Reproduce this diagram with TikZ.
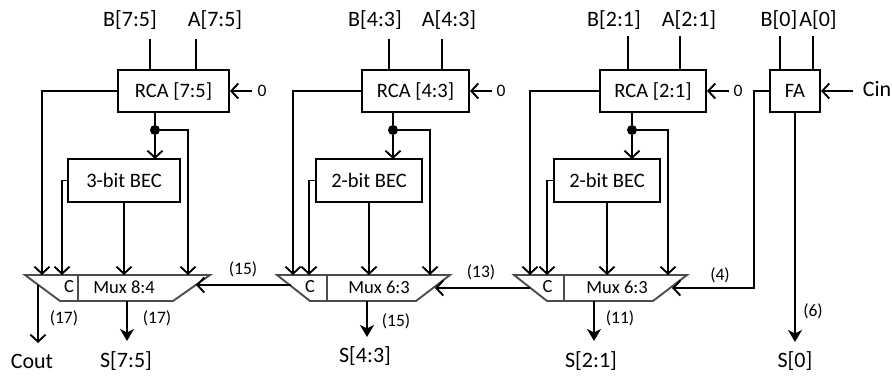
\documentclass[tikz,border=0pt]{standalone}
\usepackage{fontspec}
\setmainfont{Carlito}
\usetikzlibrary{arrows.meta}
\tikzset{
  x=1pt,y=-1pt,
  box/.style={draw=black,line width=1.9pt,inner sep=0pt,fill=none},
  muxline/.style={draw=black!70,line width=1.9pt,line join=miter},
  wire/.style={line width=1.9pt,draw=black,line cap=butt},
  barb/.style={wire,-{Straight Barb[length=7pt,width=15pt,line width=1.9pt]}},
  solid tip/.style={wire,-{Stealth[length=12pt,width=14pt,inset=3.5pt]}},
  junction/.style={circle,fill=black,inner sep=0pt,minimum size=10pt},
  sig/.style={font=\fontsize{22}{24}\selectfont,inner sep=0pt},
  lbl/.style={font=\fontsize{20.5}{24}\selectfont,inner sep=0pt},
  muxlbl/.style={font=\fontsize{18.5}{22}\selectfont,inner sep=0pt},
  cnt/.style={font=\fontsize{17.5}{20}\selectfont,inner sep=0pt},
}
\begin{document}
\begin{tikzpicture}
\useasboundingbox (0,0) rectangle (892,378);
% ---------- block 1
\node[box,lbl,minimum width=111pt,minimum height=42pt] (rca1) at (173.5,91) {RCA [7:5]};
\node[box,lbl,minimum width=112pt,minimum height=43pt] (bec1) at (124,180.5) {3-bit BEC};
\draw[muxline] (25,275) -- (210,275) -- (173,301) -- (60,301) -- cycle;
\draw[wire,draw=black!70] (78,275) coordinate (d1a) -- (78,301) coordinate (d1b);
\node[muxlbl] (c1) at (69,287) {C};
\node[muxlbl] (ml1) at (124,287) {Mux 8:4};
\node[sig] (b1) at (130,20) {B[7:5]};
\node[sig] (a1) at (215,20) {A[7:5]};
\node[cnt] (z1) at (262,91) {0};
\node[sig] (cout) at (32,361) {Cout};
\node[sig] (s1) at (126,361) {S[7:5]};
\node[cnt] (n1) at (64,318) {(17)};
\node[cnt] (n2) at (157,318) {(17)};
\node[cnt] (n3) at (243,269) {(15)};
\node[junction] (j1) at (155,130) {};
\coordinate (b1e) at (150,39); \coordinate (b1t) at (150,70);
\coordinate (a1e) at (196,39); \coordinate (a1t) at (196,70);
\draw[wire] (b1e) -- (b1t);
\draw[wire] (a1e) -- (a1t);
\draw[barb] (252,91) coordinate (z1w) -- (rca1.east);
\coordinate (m1a) at (42,275); \coordinate (m1b) at (62,275); \coordinate (m1c) at (124,275); \coordinate (m1d) at (188,275);
\draw[barb] (rca1.west) -| (m1a);
\draw[barb] (bec1.west) -| (m1b);
\draw[barb] (bec1.south) -- (m1c);
\draw[wire] (155,112) coordinate (r1s) -- (j1);
\draw[barb] (j1) -- (155,159) coordinate (b1n);
\draw[barb] (j1) -| (m1d);
\draw[barb] (38,285) coordinate (m1o) -- (38,343) coordinate (coute);
\draw[solid tip] (127,301) coordinate (m1s) -- (127,341) coordinate (s1e);
% ---------- block 2
\node[box,lbl,minimum width=107pt,minimum height=42pt] (rca2) at (415.5,91) {RCA [4:3]};
\node[box,lbl,minimum width=106pt,minimum height=43pt] (bec2) at (369,180.5) {2-bit BEC};
\draw[muxline] (277,275) -- (450,275) -- (416,301) -- (310,301) -- cycle;
\draw[wire,draw=black!70] (327,275) -- (327,301);
\node[muxlbl] (c2) at (310,287) {C};
\node[muxlbl] (ml2) at (379,287) {Mux 6:3};
\node[sig] (b2) at (375,20) {B[4:3]};
\node[sig] (a2) at (449,20) {A[4:3]};
\node[cnt] (z2) at (501,91) {0};
\node[sig] (s2) at (365,356) {S[4:3]};
\node[cnt] (n4) at (396,321) {(15)};
\node[cnt] (n5) at (481,272) {(13)};
\node[junction] (j2) at (393,130) {};
\draw[wire] (389,39) coordinate (b2e) -- (389,70) coordinate (b2t);
\draw[wire] (442,39) coordinate (a2e) -- (442,70) coordinate (a2t);
\draw[barb] (492,91) coordinate (z2w) -- (rca2.east);
\coordinate (m2a) at (293,275); \coordinate (m2b) at (309,275); \coordinate (m2c) at (369,275); \coordinate (m2d) at (430,275);
\draw[barb] (rca2.west) -| (m2a);
\draw[barb] (bec2.west) -| (m2b);
\draw[barb] (bec2.south) -- (m2c);
\draw[wire] (393,112) coordinate (r2s) -- (j2);
\draw[barb] (j2) -- (393,159) coordinate (b2n);
\draw[barb] (j2) -| (m2d);
\draw[solid tip] (367,301) coordinate (m2s) -- (367,337) coordinate (s2e);
\draw[barb] (291,285) coordinate (m2o) -- (196,285) coordinate (m1i);
% ---------- block 3
\node[box,lbl,minimum width=106pt,minimum height=42pt] (rca3) at (653,91) {RCA [2:1]};
\node[box,lbl,minimum width=106pt,minimum height=43pt] (bec3) at (607,180.5) {2-bit BEC};
\draw[muxline] (514,275) -- (687,275) -- (653,301) -- (547,301) -- cycle;
\draw[wire,draw=black!70] (564,275) -- (564,301);
\node[muxlbl] (c3) at (547.5,287) {C};
\node[muxlbl] (ml3) at (617,287) {Mux 6:3};
\node[sig] (b3) at (614,20) {B[2:1]};
\node[sig] (a3) at (689,20) {A[2:1]};
\node[cnt] (z3) at (738,91) {0};
\node[sig] (s3) at (591,361) {S[2:1]};
\node[cnt] (n6) at (620,318) {(11)};
\node[cnt] (n7) at (720,275) {(4)};
\node[junction] (j3) at (632,130) {};
\draw[wire] (628,36) coordinate (b3e) -- (628,70) coordinate (b3t);
\draw[wire] (680,36) coordinate (a3e) -- (680,70) coordinate (a3t);
\draw[barb] (729,91) coordinate (z3w) -- (rca3.east);
\coordinate (m3a) at (530,275); \coordinate (m3b) at (547,275); \coordinate (m3c) at (607,275); \coordinate (m3d) at (668,275);
\draw[barb] (rca3.west) -| (m3a);
\draw[barb] (bec3.west) -| (m3b);
\draw[barb] (bec3.south) -- (m3c);
\draw[wire] (632,112) coordinate (r3s) -- (j3);
\draw[barb] (j3) -- (632,159) coordinate (b3n);
\draw[barb] (j3) -| (m3d);
\draw[solid tip] (594,301) coordinate (m3s) -- (594,341) coordinate (s3e);
\draw[barb] (530,288) coordinate (m3o) -- (435,288) coordinate (m2i);
% ---------- FA
\node[box,lbl,minimum width=50pt,minimum height=42pt] (fa) at (795,91) {FA};
\node[sig] (b4) at (779,20) {B[0]};
\node[sig] (a4) at (818,20) {A[0]};
\node[sig] (cin) at (877,89) {Cin};
\node[sig] (s4) at (795,361) {S[0]};
\node[cnt] (n8) at (813,311) {(6)};
\draw[wire] (780,36) coordinate (b4e) -- (780,70) coordinate (b4t);
\draw[wire] (813,36) coordinate (a4e) -- (813,70) coordinate (a4t);
\draw[barb] (853,91) coordinate (cine) -- (fa.east);
\draw[solid tip] (fa.south) -- (795,342) coordinate (s4e);
\coordinate (m3i) at (672,288);
\draw[barb] (fa.west) -- (754,91) -- (754,288) -- (m3i);
\end{tikzpicture}
\end{document}
